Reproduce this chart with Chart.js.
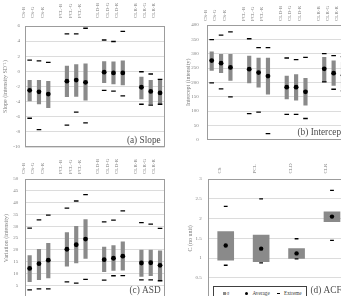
<!DOCTYPE html>
<html><head><meta charset="utf-8">
<script src="https://cdn.jsdelivr.net/npm/chart.js@4.4.1/dist/chart.umd.min.js"></script>
<style>
html,body{margin:0;padding:0;background:#fff;}
body{width:341px;height:296px;overflow:hidden;position:relative;font-family:'Liberation Serif','Times New Roman',serif;}
canvas{position:absolute;}
#lg{position:absolute;left:213px;top:286px;width:92px;height:14px;border:1px solid #404040;background:#fff;color:#404040;font-size:5.2px;line-height:5.2px;}
#lg span{position:absolute;white-space:nowrap;}
</style></head><body>
<canvas id="ca" width="170" height="155" style="left:0;top:0;width:170px;height:155px"></canvas>
<canvas id="cb" width="173" height="151" style="left:180px;top:0;width:173px;height:151px"></canvas>
<canvas id="cc" width="170" height="155" style="left:0;top:152px;width:170px;height:155px"></canvas>
<canvas id="cd" width="175" height="155" style="left:180px;top:152px;width:175px;height:155px"></canvas>
<div id="lg">
  <span style="left:9px;top:5px;width:2.6px;height:2.6px;background:#8a8a8a"></span>
  <span style="left:12.5px;top:3.5px">σ</span>
  <span style="left:30.5px;top:4.8px;width:3px;height:3px;border-radius:50%;background:#000"></span>
  <span style="left:38.5px;top:3.5px">Average</span>
  <span style="left:62.5px;top:5.8px;width:3.4px;height:1px;background:#000"></span>
  <span style="left:70px;top:3.5px">Extreme</span>
</div>
<script>
// ---------- data ----------
const cats15 = ['CS-B','CS-G','CS-R','','PCL-B','PCL-G','PCL-R','','CLD-B','CLD-G','CLD-R','','CLR-B','CLR-G','CLR-R'];
const catsACF = ['CS','PCL','CLD','CLR'];

const slopeAvg    = [-2.5,-2.7,-3.0,null,-1.3,-1.15,-1.45,null,-0.1,-0.2,-0.2,null,-2.1,-2.65,-2.85];
const slopeSdHi   = [-1.2,-1.2,-1.3,null,0.7,0.9,1.0,null,1.3,1.25,1.4,null,-0.75,-1.2,-1.05];
const slopeSdLo   = [-3.9,-4.3,-4.8,null,-3.35,-3.3,-3.8,null,-1.5,-1.65,-1.8,null,-3.65,-4.35,-4.35];
const slopeExtMax = [1.5,1.4,1.2,null,4.95,4.95,5.7,null,4.15,3.95,5.3,null,-0.05,-0.35,-1.05];
const slopeExtMin = [-6.2,-7.7,null,null,-7.1,-5.4,-6.8,null,-2.5,-2.6,-3.25,null,-4.35,-4.45,-4.35];

const intAvg    = [276,267,252,null,246,234,222,null,183,183,167,null,247,232,225];
const intSdHi   = [306,298,298,null,292,285,285,null,222,227,214,null,287,275,270];
const intSdLo   = [242,234,207,null,198,183,159,null,142,138,120,null,202,189,180];
const intExtMax = [349,365,376,null,352,321,321,null,285,279,287,null,300,293,290];
const intExtMin = [198,177,149,null,91,96,21,null,88,88,74,null,202,176,170];

const asdAvg    = [12.2,14.2,15.7,null,20.3,22.2,24.6,null,15.9,16.5,17.4,null,14.5,14.6,13.5];
const asdSdHi   = [17.6,20.3,22.8,null,27.4,30.0,32.8,null,21.2,21.9,23.4,null,20.0,20.0,19.6];
const asdSdLo   = [6.6,7.4,8.2,null,13.2,14.5,16.4,null,10.8,11.4,11.5,null,8.8,9.1,7.0];
const asdExtMax = [29.2,32.7,34.7,null,37.7,40.7,43.4,null,31.9,32.6,36.5,null,31.6,30.9,29.1];
const asdExtMin = [3.1,3.6,3.6,null,6.5,6.0,7.6,null,7.3,9.1,9.2,null,7.4,7.4,7.0];

const acfAvg    = [1.32,1.24,1.12,2.05];
const acfSdHi   = [1.67,1.58,1.24,2.17];
const acfSdLo   = [0.95,0.91,0.99,1.92];
const acfExtMax = [2.31,2.50,1.49,2.71];
const acfExtMin = [0.82,0.88,0.98,1.45];

// ---------- styling ----------
const SERIF = "'Liberation Serif','Times New Roman',serif";
const BAR = '#8a8a8a', GRID = '#dcdcdc', FRAME = '#9c9c9c', TXT = '#7f7f7f';

const frame = { id:'frame', beforeDatasetsDraw(c){ const a=c.chartArea, x=c.ctx; x.save(); x.strokeStyle=FRAME; x.lineWidth=1;
  x.strokeRect(Math.round(a.left)+0.5, Math.round(a.top)+0.5, Math.round(a.right-a.left)-1, Math.round(a.bottom-a.top)-1); x.restore(); } };
const tag = { id:'tag', afterDraw(c, args, o){ if(!o.text) return; const a=c.chartArea, x=c.ctx; x.save();
  x.font = '9.3px ' + SERIF; x.fillStyle='#4d4d4d'; x.textAlign='right'; x.textBaseline='alphabetic';
  x.fillText(o.text, a.right - o.dx, a.bottom - o.dy); x.restore(); } };

function panel(id, o){
  const bars = o.lo.map((l,i)=> l==null ? null : [l, o.hi[i]]);
  return new Chart(document.getElementById(id), {
    type:'bar',
    data:{ labels:o.labels, datasets:[
      {type:'bar', label:'σ', data:bars, backgroundColor:BAR, borderWidth:0, barThickness:o.bw, order:3},
      {type:'line', label:'Extreme', data:o.emax, showLine:false, pointStyle:'line', pointRadius:o.er, pointBorderColor:'#000', pointBorderWidth:1.3, borderColor:'#000', order:2},
      {type:'line', label:'Extreme (min)', data:o.emin, showLine:false, pointStyle:'line', pointRadius:o.er, pointBorderColor:'#000', pointBorderWidth:1.3, borderColor:'#000', order:2},
      {type:'line', label:'Average', data:o.avg, showLine:false, pointStyle:'circle', pointRadius:o.pr, pointBackgroundColor:'#000', pointBorderWidth:0, borderColor:'#000', order:1}
    ]},
    options:{ responsive:false, devicePixelRatio:1, animation:false, events:[],
      layout:{padding:{left:0,right:o.padR,top:0,bottom:o.padB}},
      plugins:{legend:{display:false}, tooltip:{enabled:false}, tag:{text:o.tag, dx:o.tagDx, dy:o.tagDy}},
      scales:{
        x:{type:'category', position:'top', offset:true,
           grid:{display:false, drawTicks:false}, border:{display:false},
           ticks:{autoSkip:false, minRotation:90, maxRotation:90, padding:o.xpad, color:TXT, font:{family:SERIF,size:5}},
           afterFit(s){ s.height = o.xh; } },
        y:{type:'linear', min:o.min, max:o.max,
           ticks:{stepSize:o.step, padding:o.ypad, color:TXT, font:{family:SERIF,size:5}, callback:v=>String(+(+v).toFixed(2))},
           grid:{color:GRID, drawTicks:false}, border:{display:false},
           title:{display:true, text:o.title, color:TXT, font:{family:SERIF,size:6}, padding:{top:o.tpad,bottom:0}},
           afterFit(s){ s.width = o.yw; } }
      }
    },
    plugins:[frame, tag]
  });
}

panel('ca', {labels:cats15, avg:slopeAvg, lo:slopeSdLo, hi:slopeSdHi, emax:slopeExtMax, emin:slopeExtMin,
  min:-10, max:6, step:2, title:'Slope (intensity SD⁻¹)', bw:3.5, pr:2.4, er:2.3,
  yw:25, xh:26, padR:2, padB:6, ypad:5, xpad:8, tpad:2, tag:'(a) Slope', tagDx:4, tagDy:4.5});
panel('cb', {labels:cats15, avg:intAvg, lo:intSdLo, hi:intSdHi, emax:intExtMax, emin:intExtMin,
  min:0, max:400, step:50, title:'Intercept (intensity)', bw:3.5, pr:2.4, er:2.3,
  yw:27, xh:25, padR:3, padB:3, ypad:8.3, xpad:4, tpad:4.4, tag:'(b) Intercept', tagDx:4, tagDy:4.5});
panel('cc', {labels:cats15, avg:asdAvg, lo:asdSdLo, hi:asdSdHi, emax:asdExtMax, emin:asdExtMin,
  min:0, max:50, step:5, title:'Variation (intensity)', bw:3.5, pr:2.4, er:2.3,
  yw:25, xh:27, padR:2, padB:4, ypad:6.7, xpad:5, tpad:2.6, tag:'(c) ASD', tagDx:4, tagDy:4.5});
panel('cd', {labels:catsACF, avg:acfAvg, lo:acfSdLo, hi:acfSdHi, emax:acfExtMax, emin:acfExtMin,
  min:0, max:3, step:0.5, title:'C (no unit)', bw:16, pr:2.2, er:1.9,
  yw:28, xh:27, padR:3, padB:4, ypad:6.3, xpad:5.5, tpad:6.7, tag:'(d) ACF', tagDx:8, tagDy:4.5});
</script>
</body></html>
